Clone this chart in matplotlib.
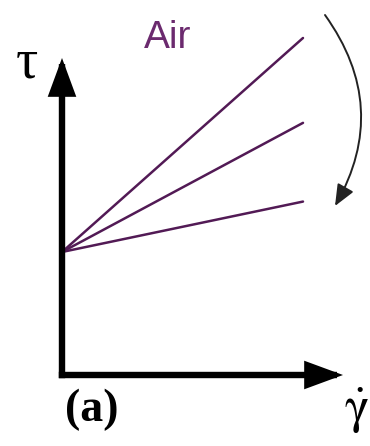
import matplotlib
matplotlib.use("Agg")
import matplotlib.pyplot as plt
from matplotlib.patches import FancyArrowPatch

# Bingham-like curves: same yield stress, three slopes (viscosity drops)
shear_rate = [0.0, 1.0]
tau_yield = 1.0
tau_end = [2.74, 2.05, 1.41]

line_color = "#521a55"
text_color = "#6b2a6e"

W, H = 370, 446
fig = plt.figure(figsize=(W / 100, H / 100), dpi=100)
fig.patch.set_facecolor("white")

# axes origin at pixel (62, 375), gamma=1 at px 303, tau=1 is 123 px
x0, y0 = 62, 375
px_x, px_y = 241, 123
left, right, top = 62, 343, 15
ax = fig.add_axes([left / W, (H - y0) / H, (right - left) / W, (y0 - top) / H])
ax.set_xlim(0, (right - left) / px_x)
ax.set_ylim(0, (y0 - top) / px_y)
ax.axis("off")

for te in tau_end:
    ax.plot(shear_rate, [tau_yield, te], color=line_color, lw=1.8,
            solid_capstyle="round", zorder=3, clip_on=False)

# axis arrows
y_tip = (y0 - 58) / px_y
x_tip = (343 - x0) / px_x
for end in [(0, y_tip), (x_tip, 0)]:
    arr = FancyArrowPatch((0, 0), end, arrowstyle="-|>,head_length=19,head_width=7",
                          mutation_scale=1, lw=4.6, color="black",
                          shrinkA=0, shrinkB=0, capstyle="projecting",
                          joinstyle="miter", zorder=4, clip_on=False)
    ax.add_patch(arr)

# overlay in pixel coords for labels
ov = fig.add_axes([0, 0, 1, 1], facecolor="none")
ov.set_xlim(0, W)
ov.set_ylim(H, 0)
ov.axis("off")

ov.text(168, 38, "Air", color=text_color, fontsize=28,
        family="Liberation Sans", ha="center", va="center")
ov.text(27, 64, "τ", fontsize=40, family="Liberation Serif",
        ha="center", va="center")
ov.text(92, 410, "(a)", fontsize=33, family="Liberation Serif",
        fontweight="bold", ha="center", va="center")
ov.text(356, 411, r"$\dot{\mathrm{\gamma}}$", fontsize=37,
        math_fontfamily="stix", ha="center", va="center")

curve = FancyArrowPatch((325, 15), (335, 206), connectionstyle="arc3,rad=-0.32",
                        arrowstyle="-|>,head_length=13,head_width=5.5",
                        mutation_scale=1, lw=1.4, color="#222222",
                        shrinkA=0, shrinkB=0, clip_on=False)
ov.add_patch(curve)

fig.savefig("out.png", dpi=100, facecolor="white")
